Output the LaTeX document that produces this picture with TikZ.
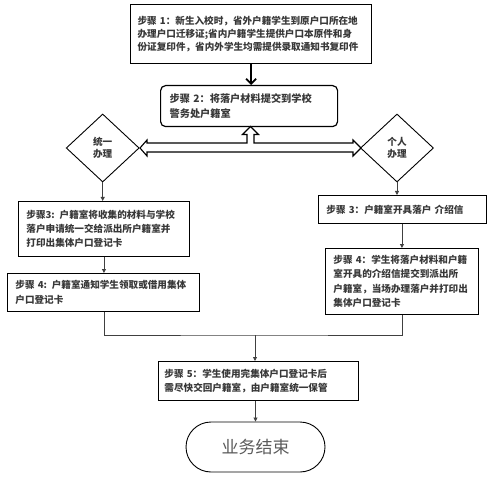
\documentclass[tikz,border=0pt]{standalone}
\usepackage{fontspec}
\newfontfamily\cjk{Noto Sans CJK SC}
\usetikzlibrary{arrows.meta,shapes.geometric}
\definecolor{inkgray}{HTML}{383838}
\definecolor{linkgray}{HTML}{404040}
\definecolor{endgray}{HTML}{5A5A5A}
\tikzset{
  stepbox/.style={draw=black, line width=0.9pt, anchor=north west, align=left,
    inner ysep=0pt, inner xsep=8pt, text=inkgray,
    font=\cjk\bfseries\fontsize{9.6}{14.3}\selectfont},
  choice/.style={draw=black, line width=0.9pt, diamond, inner sep=0pt,
    minimum width=73pt, minimum height=68pt, align=center, text=inkgray,
    font=\cjk\bfseries\fontsize{9.6}{12}\selectfont},
  link/.style={draw=linkgray, line width=0.8pt, -{Triangle[length=4pt,width=4pt]}},
}
\begin{document}
\begin{tikzpicture}[x=1pt,y=-1pt]
\useasboundingbox (0,0) rectangle (492,478);
\node[stepbox, line width=1.2pt, inner xsep=7pt, text width=227pt, minimum height=59pt,
  font=\cjk\bfseries\fontsize{9.6}{13.4}\selectfont] (stepone) at (130,4)
  {步骤 1：新生入校时，省外户籍学生到原户口所在地\\办理户口迁移证;省内户籍学生提供户口本原件和身\\份证复印件，省内外学生均需提供录取通知书复印件}; % Step.1
\node[stepbox, line width=1.2pt, rounded corners=5pt, inner xsep=9pt, text width=159pt, minimum height=41pt,
  font=\cjk\bfseries\fontsize{10.2}{15}\selectfont] (steptwo) at (160,85)
  {步骤 2：将落户材料提交到学校\\警务处户籍室}; % Step.2
\node[choice] (lchoice) at (102.7,148) {统一\\办理}; % Choice.left
\node[choice] (rchoice) at (397,148) {个人\\办理}; % Choice.right
\node[stepbox, text width=155pt, minimum height=55pt] (lstepthree) at (18,201)
  {步骤3: 户籍室将收集的材料与学校\\落户申请统一交给派出所户籍室并\\打印出集体户口登记卡}; % Left.3
\node[stepbox, text width=176pt, minimum height=38pt] (lstepfour) at (7,273)
  {步骤 4: 户籍室通知学生领取或借用集体\\户口登记卡}; % Left.4
\node[stepbox, text width=152pt, minimum height=28pt] (rstepthree) at (318,195)
  {步骤 3：户籍室开具落户 介绍信}; % Right.3
\node[stepbox, text width=137pt, minimum height=66pt] (rstepfour) at (325,248)
  {步骤 4：学生将落户材料和户籍\\室开具的介绍信提交到派出所\\户籍室，当场办理落户并打印出\\集体户口登记卡}; % Right.4
\node[stepbox, inner xsep=6pt, text width=188pt, minimum height=39pt] (stepfive) at (158,361)
  {步骤 5：学生使用完集体户口登记卡后\\需尽快交回户籍室，由户籍室统一保管}; % Step.5
\node[draw=black, line width=0.9pt, rounded corners=25pt, minimum width=139pt, minimum height=50pt,
  text=endgray, font=\cjk\fontsize{17}{20}\selectfont] (finish) at (255.5,447) {业务结束}; % End
\coordinate (join) at (255,335);
% connectors
\draw[line width=1.8pt, -{Straight Barb[length=5pt,width=10pt]}] (stepone.south) -- (stepone.south |- steptwo.north);
\draw[white, fill=white] (250.5,126.5) -- (258.5,134.5) -- (254,134.5) -- (254,143) -- (353,143) -- (353,140) -- (361,148) -- (353,156) -- (353,152) -- (147,152) -- (147,156) -- (140,148) -- (147,140) -- (147,143) -- (247,143) -- (247,134.5) -- (242.5,134.5) -- cycle;
\draw[line width=1.1pt, line join=miter] (250.5,126.5) -- (258.5,134.5) -- (254,134.5) -- (254,143) -- (353,143) -- (353,140) -- (361,148) -- (353,156) -- (353,152) -- (147,152) -- (147,156) -- (140,148) -- (147,140) -- (147,143) -- (247,143) -- (247,134.5) -- (242.5,134.5) -- cycle; % hollow arrow
\draw[link] (lchoice.south) -- (lchoice.south |- lstepthree.north);
\draw[link] (lstepthree.south) -- (lstepthree.south |- lstepfour.north);
\draw[link] (rchoice.south) -- (rchoice.south |- rstepthree.north);
\draw[link] (rstepfour.north |- rstepthree.south) -- (rstepfour.north);
\draw[draw=linkgray, line width=0.8pt] (lstepthree.south |- lstepfour.south) |- (join) -| (rstepfour.south);
\draw[link] (join) -- (join |- stepfive.north);
\draw[link] (finish.north |- stepfive.south) -- (finish.north);
\end{tikzpicture}
\end{document}
